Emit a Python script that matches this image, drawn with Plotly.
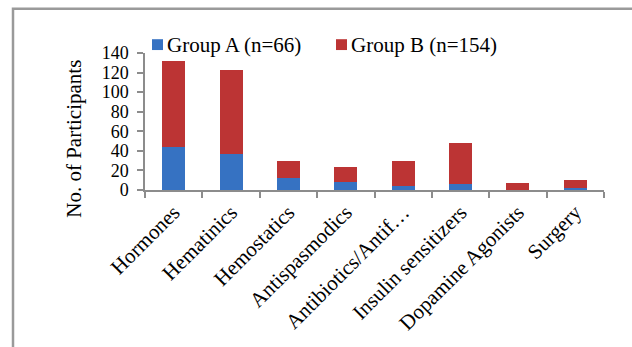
import plotly.graph_objects as go

categories = ["Hormones", "Hematinics", "Hemostatics", "Antispasmodics",
              "Antibiotics/Antif…", "Insulin sensitizers", "Dopamine Agonists", "Surgery"]
group_a = [44, 37, 12, 8, 4, 6, 0, 2]
group_b = [88, 86, 18, 16, 26, 42, 7, 8]
y_ticks = [0, 20, 40, 60, 80, 100, 120, 140]
series_names = ["Group A (n=66)", "Group B (n=154)"]
series_colors = ["#3672c2", "#bc3434"]

W, H = 632, 347
L, R, T, B = 145, 28, 53, 155
pw, ph = W - L - R, H - T - B

def px(x):
    return (x - L) / pw

def py(y):
    return (H - B - y) / ph

serif = "Liberation Serif, Times New Roman, serif"
FS = 21

fig = go.Figure()
for vals, name, col in zip([group_a, group_b], series_names, series_colors):
    fig.add_trace(go.Bar(x=categories, y=vals, name=name,
                         marker=dict(color=col, line=dict(width=0))))

# legend drawn as swatches plus text along the top
shapes = []
annotations = []
for x0, name, col in zip([152, 336], series_names, series_colors):
    shapes.append(dict(type="rect", xref="paper", yref="paper",
                       x0=px(x0), x1=px(x0 + 11), y0=py(50), y1=py(39),
                       fillcolor=col, line=dict(width=0)))
    annotations.append(dict(text=name, xref="paper", yref="paper",
                            x=px(x0 + 13), y=py(45), xanchor="left", yanchor="middle",
                            showarrow=False, font=dict(family=serif, size=FS, color="#000")))

# y-axis title
annotations.append(dict(text="No. of Participants", xref="paper", yref="paper",
                        x=px(74), y=py(140), textangle=-90, showarrow=False,
                        xanchor="center", yanchor="middle",
                        font=dict(family=serif, size=FS, color="#000")))

# outer chart frame (left and top edges)
shapes.append(dict(type="path", xref="paper", yref="paper",
                   path=f"M {px(13)} {py(H + 5)} L {px(13)} {py(8)} L {px(W + 5)} {py(8)}",
                   line=dict(color="#9a9a9a", width=2.5)))

axis_col = "#8c8c8c"
fig.update_layout(
    width=W, height=H,
    margin=dict(l=L, r=R, t=T, b=B),
    barmode="stack", bargap=0.6,
    paper_bgcolor="white", plot_bgcolor="white",
    font=dict(family=serif, size=FS, color="#000"),
    showlegend=False,
    xaxis=dict(showline=True, linecolor=axis_col, linewidth=1.5,
               ticks="outside", ticklen=6, tickcolor=axis_col, tickwidth=1.5,
               tickson="boundaries", tickangle=-45, tickfont=dict(size=FS),
               showgrid=False),
    yaxis=dict(range=[0, 140], tickvals=y_ticks, showline=True, linecolor=axis_col,
               linewidth=1.5, ticks="outside", ticklen=6, tickcolor=axis_col,
               tickwidth=1.5, showgrid=False, zeroline=False,
               ticklabelstandoff=5, tickfont=dict(size=18)),
    shapes=shapes,
    annotations=annotations,
)

fig.write_html("out.html")
